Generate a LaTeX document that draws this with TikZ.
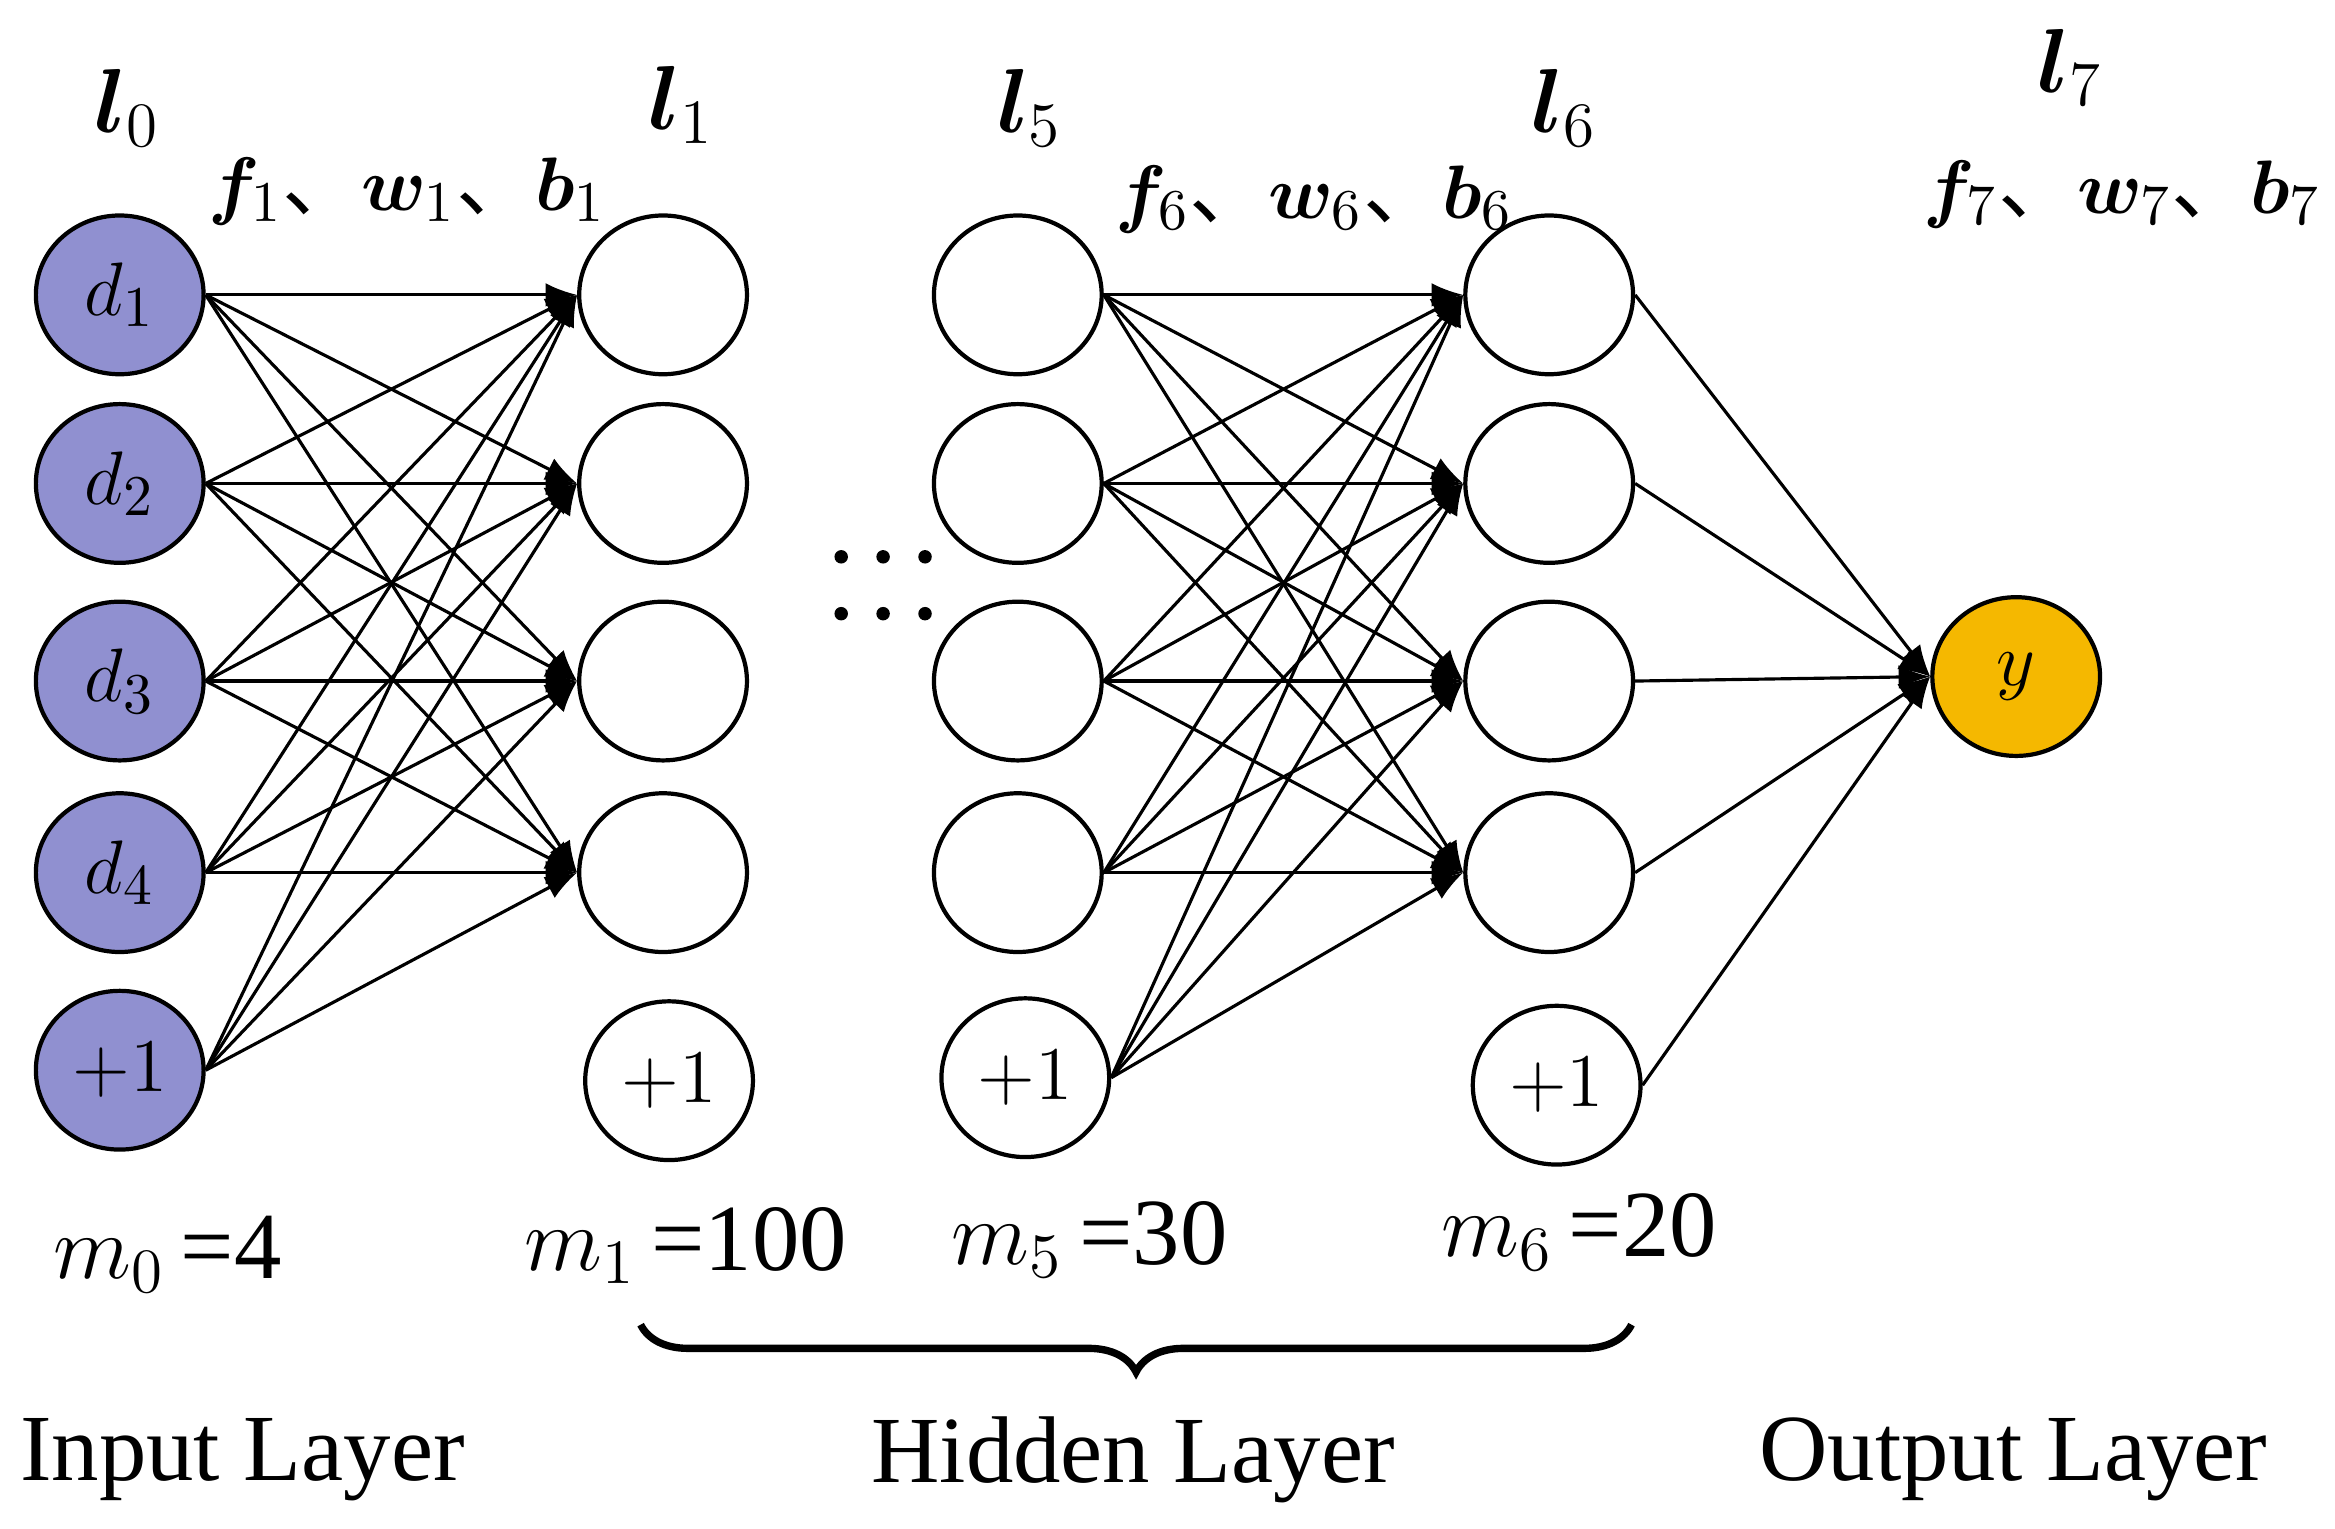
\documentclass[tikz,border=0pt]{standalone}
\usepackage{amsmath,bm}
\usepackage{fontspec}
\setmainfont{Liberation Serif}
\newfontfamily\cjk{Noto Sans CJK SC}
\usetikzlibrary{arrows.meta,shapes.geometric,decorations.pathreplacing}
\definecolor{inblue}{RGB}{144,144,208}
\definecolor{outorange}{RGB}{245,184,0}
\tikzset{
  neuron/.style={draw,line width=0.8pt,ellipse,minimum width=1.12cm,minimum height=1.06cm,inner sep=0pt,font=\fontsize{15}{15}\selectfont},
  conn/.style={line width=0.6pt},
  arr/.style={conn,-{Latex[length=6pt,width=4.5pt]}},
  lbl/.style={font=\fontsize{15}{15}\selectfont},
  big/.style={font=\fontsize{18}{18}\selectfont},
  dot/.style={fill,circle,inner sep=0pt,minimum size=0.09cm}
}
\newcommand{\dun}{{\cjk 、}}
\begin{document}
\begin{tikzpicture}[x=0.01cm,y=-0.01cm]
  \useasboundingbox (0,0) rectangle (1560,1021);

  % --- input layer
  \foreach \i/\y/\t in {1/197/$d_1$,2/323/$d_2$,3/455/$d_3$,4/583/$d_4$,5/715/$+1$}
    \node[neuron,fill=inblue] (a\i) at (80,\y) {\t};

  % --- hidden layers
  \foreach \i/\y in {1/197,2/323,3/455,4/583}{
    \node[neuron] (b\i) at (443,\y) {};
    \node[neuron] (c\i) at (680,\y) {};
    \node[neuron] (e\i) at (1035,\y) {};
  }
  \node[neuron] (b5) at (447,722) {$+1$};
  \node[neuron] (c5) at (685,720) {$+1$};
  \node[neuron] (e5) at (1040,725) {$+1$};

  % --- output
  \node[neuron,fill=outorange] (o) at (1347,452) {$y$};

  % --- connections
  \foreach \i in {1,...,5}{
    \foreach \j in {1,...,4}{
      \draw[arr] (a\i.east) -- (b\j.west);
      \draw[arr] (c\i.east) -- (e\j.west);
    }
    \draw[arr] (e\i.east) -- (o.west);
  }

  % --- dots
  \foreach \k/\x in {1/562,2/590,3/618}{
    \node[dot] (du\k) at (\x,372) {};
    \node[dot] (dd\k) at (\x,410) {};
  }

  % --- layer labels
  \node[big] (l0) at (85,72) {$\bm{l}_0$};
  \node[big] (l1) at (455,70) {$\bm{l}_1$};
  \node[big] (l5) at (688,72) {$\bm{l}_5$};
  \node[big] (l6) at (1045,72) {$\bm{l}_6$};
  \node[big] (l7) at (1383,45) {$\bm{l}_7$};
  \node[lbl] (p1) at (272,128) {$\bm{f}_1$\dun$\bm{w}_1$\dun$\bm{b}_1$};
  \node[lbl] (p6) at (878,133) {$\bm{f}_6$\dun$\bm{w}_6$\dun$\bm{b}_6$};
  \node[lbl] (p7) at (1418,130) {$\bm{f}_7$\dun$\bm{w}_7$\dun$\bm{b}_7$};

  % --- sizes
  \node[big] (m0) at (112,838) {$m_0$\,=4};
  \node[big] (m1) at (458,832) {$m_1$\,=100};
  \node[big] (m5) at (728,828) {$m_5$\,=30};
  \node[big] (m6) at (1055,823) {$m_6$\,=20};

  % --- brace and layer names
  \draw[line width=1.4pt,decorate,decoration={brace,mirror,amplitude=9pt}] (428,885) -- (1090,885);
  \node[big] (in) at (162,975) {Input Layer};
  \node[big] (hid) at (757,975) {Hidden Layer};
  \node[big] (out) at (1345,975) {Output Layer};
\end{tikzpicture}
\end{document}
